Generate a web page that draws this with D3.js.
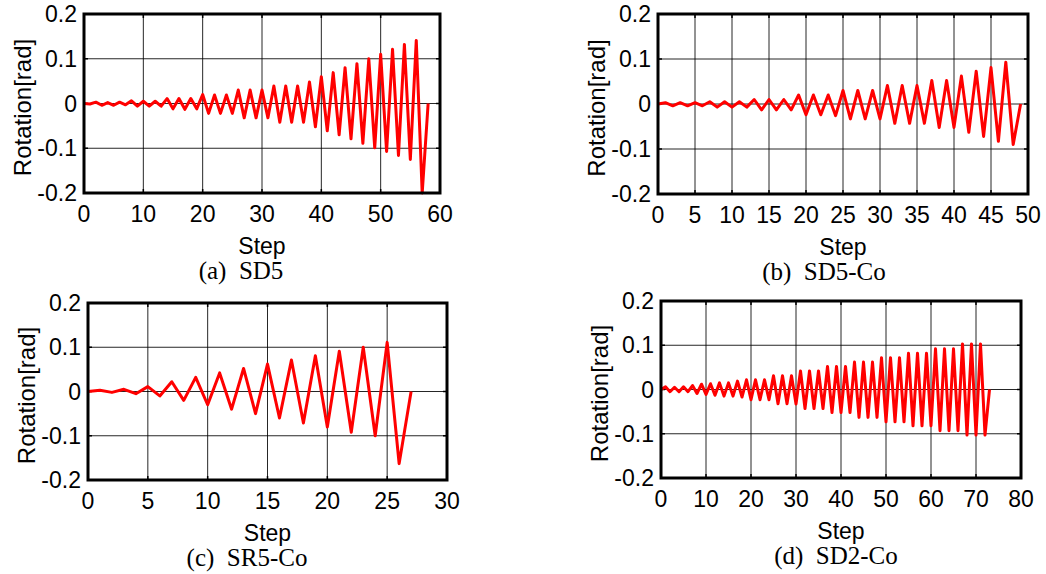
<!DOCTYPE html>
<html>
<head>
<meta charset="utf-8">
<script src="https://cdn.jsdelivr.net/npm/d3@7"></script>
<style>
  html, body { margin: 0; padding: 0; background: #fff; }
  svg { display: block; }
  .tick-label { font-family: "Liberation Sans", Arial, sans-serif; font-size: 23px; fill: #000; }
  .axis-title { font-family: "Liberation Sans", Arial, sans-serif; font-size: 23px; fill: #000; }
  .y-title { font-size: 24px; }
  .caption { font-family: "Liberation Serif", "Times New Roman", serif; font-size: 25px; fill: #000; }
</style>
</head>
<body>
<svg id="chart" width="1046" height="574"></svg>
<script>
// Rotation history (rad) per loading step for each specimen
const rotationSD5 = [
  0, -0.001, 0.003, -0.004, 0.002, -0.004, 0.003, -0.003, 0.006, -0.006,
  0.005, -0.006, 0.005, -0.006, 0.011, -0.012, 0.011, -0.013, 0.011, -0.012,
  0.020, -0.022, 0.019, -0.022, 0.019, -0.022, 0.030, -0.032, 0.030, -0.032,
  0.030, -0.032, 0.039, -0.042, 0.039, -0.042, 0.039, -0.042, 0.048, -0.052,
  0.060, -0.061, 0.069, -0.070, 0.080, -0.079, 0.089, -0.089, 0.100, -0.099,
  0.110, -0.107, 0.121, -0.116, 0.132, -0.125, 0.141, -0.200, 0
];
const rotationSD5Co = [
  0, 0.003, -0.004, 0.003, -0.004, 0.003, -0.004, 0.005, -0.007, 0.005,
  -0.007, 0.005, -0.007, 0.010, -0.013, 0.010, -0.013, 0.010, -0.013, 0.020,
  -0.024, 0.020, -0.024, 0.020, -0.026, 0.030, -0.033, 0.030, -0.033, 0.030,
  -0.033, 0.041, -0.043, 0.041, -0.043, 0.041, -0.043, 0.052, -0.052, 0.052,
  -0.052, 0.062, -0.063, 0.073, -0.072, 0.081, -0.083, 0.093, -0.090, 0
];
const rotationSR5Co = [
  0, 0.003, -0.002, 0.005, -0.005, 0.011, -0.010, 0.022, -0.020, 0.032,
  -0.030, 0.042, -0.040, 0.052, -0.050, 0.062, -0.060, 0.071, -0.071, 0.081,
  -0.080, 0.091, -0.092, 0.100, -0.100, 0.111, -0.163, 0
];
const rotationSD2Co = [
  0, 0.006, -0.005, 0.005, -0.005, 0.006, -0.005, 0.009, -0.009, 0.012,
  -0.011, 0.013, -0.013, 0.015, -0.015, 0.015, -0.015, 0.019, -0.017, 0.022,
  -0.023, 0.022, -0.023, 0.022, -0.023, 0.031, -0.032, 0.031, -0.032, 0.031,
  -0.033, 0.042, -0.043, 0.042, -0.043, 0.042, -0.043, 0.052, -0.052, 0.052,
  -0.052, 0.052, -0.052, 0.062, -0.063, 0.062, -0.063, 0.062, -0.063, 0.072,
  -0.073, 0.072, -0.073, 0.072, -0.073, 0.082, -0.082, 0.082, -0.082, 0.082,
  -0.082, 0.092, -0.093, 0.092, -0.093, 0.092, -0.093, 0.103, -0.103, 0.103,
  -0.103, 0.103, -0.103, 0
];

// Axis tick values and labels
const yTicks = [-0.2, -0.1, 0, 0.1, 0.2];
const yTickLabels = ["-0.2", "-0.1", "0", "0.1", "0.2"];
const xTicksSD5 = [0, 10, 20, 30, 40, 50, 60];
const xTicksSD5Co = [0, 5, 10, 15, 20, 25, 30, 35, 40, 45, 50];
const xTicksSR5Co = [0, 5, 10, 15, 20, 25, 30];
const xTicksSD2Co = [0, 10, 20, 30, 40, 50, 60, 70, 80];

const captions = ["(a)  SD5", "(b)  SD5-Co", "(c)  SR5-Co", "(d)  SD2-Co"];
const xTitle = "Step";
const yTitle = "Rotation[rad]";

// Panel layout (plot-area box in pixels and caption centre)
const panels = [
  { series: rotationSD5,   xTicks: xTicksSD5,   caption: captions[0], box: [84, 14, 440, 193],  capX: 241 },
  { series: rotationSD5Co, xTicks: xTicksSD5Co, caption: captions[1], box: [658, 14, 1028, 194], capX: 824 },
  { series: rotationSR5Co, xTicks: xTicksSR5Co, caption: captions[2], box: [88, 303, 447, 480], capX: 247 },
  { series: rotationSD2Co, xTicks: xTicksSD2Co, caption: captions[3], box: [661, 301, 1021, 478], capX: 836 }
];

const svg = d3.select("#chart");

panels.forEach(p => {
  const [x0, y0, x1, y1] = p.box;
  const x = d3.scaleLinear().domain([p.xTicks[0], p.xTicks[p.xTicks.length - 1]]).range([x0, x1]);
  const y = d3.scaleLinear().domain([-0.2, 0.2]).range([y1, y0]);
  const g = svg.append("g");

  // grid lines
  g.append("g").selectAll("line.vg")
    .data(p.xTicks.slice(1, -1)).enter().append("line")
    .attr("x1", d => x(d)).attr("x2", d => x(d))
    .attr("y1", y0).attr("y2", y1)
    .attr("stroke", "#000").attr("stroke-width", 1).attr("stroke-opacity", 0.85);
  g.append("g").selectAll("line.hg")
    .data(yTicks.slice(1, -1)).enter().append("line")
    .attr("x1", x0).attr("x2", x1)
    .attr("y1", d => y(d)).attr("y2", d => y(d))
    .attr("stroke", "#000").attr("stroke-width", 1).attr("stroke-opacity", 0.85);

  // inward tick marks on all four sides
  const tl = 4;
  const ticks = g.append("g").attr("stroke", "#000").attr("stroke-width", 1.5);
  p.xTicks.forEach(t => {
    ticks.append("line").attr("x1", x(t)).attr("x2", x(t)).attr("y1", y1).attr("y2", y1 - tl);
    ticks.append("line").attr("x1", x(t)).attr("x2", x(t)).attr("y1", y0).attr("y2", y0 + tl);
  });
  yTicks.forEach(t => {
    ticks.append("line").attr("x1", x0).attr("x2", x0 + tl).attr("y1", y(t)).attr("y2", y(t));
    ticks.append("line").attr("x1", x1).attr("x2", x1 - tl).attr("y1", y(t)).attr("y2", y(t));
  });

  // rotation history
  const line = d3.line().x((d, i) => x(i)).y(d => y(d));
  g.append("path")
    .datum(p.series)
    .attr("d", line)
    .attr("fill", "none")
    .attr("stroke", "#ff0000")
    .attr("stroke-width", 3)
    .attr("stroke-linejoin", "round");

  // frame
  g.append("rect")
    .attr("x", x0).attr("y", y0)
    .attr("width", x1 - x0).attr("height", y1 - y0)
    .attr("fill", "none").attr("stroke", "#000").attr("stroke-width", 3);

  // tick labels
  g.append("g").selectAll("text")
    .data(p.xTicks).enter().append("text")
    .attr("class", "tick-label")
    .attr("x", d => x(d)).attr("y", y1 + 21)
    .attr("text-anchor", "middle").attr("dominant-baseline", "central")
    .text(d => d);
  g.append("g").selectAll("text")
    .data(yTicks).enter().append("text")
    .attr("class", "tick-label")
    .attr("x", x0 - 7).attr("y", d => y(d))
    .attr("text-anchor", "end").attr("dominant-baseline", "central")
    .text((d, i) => yTickLabels[i]);

  // axis titles
  g.append("text").attr("class", "axis-title")
    .attr("x", (x0 + x1) / 2).attr("y", y1 + 53)
    .attr("text-anchor", "middle").attr("dominant-baseline", "central")
    .text(xTitle);
  g.append("text").attr("class", "axis-title y-title")
    .attr("transform", `translate(${x0 - 62},${(y0 + y1) / 2 + 4}) rotate(-90)`)
    .attr("text-anchor", "middle").attr("dominant-baseline", "central")
    .text(yTitle);

  // caption
  g.append("text").attr("class", "caption")
    .attr("x", p.capX).attr("y", y1 + 77)
    .attr("text-anchor", "middle").attr("dominant-baseline", "central")
    .attr("xml:space", "preserve")
    .style("white-space", "pre")
    .text(p.caption);
});
</script>
</body>
</html>
